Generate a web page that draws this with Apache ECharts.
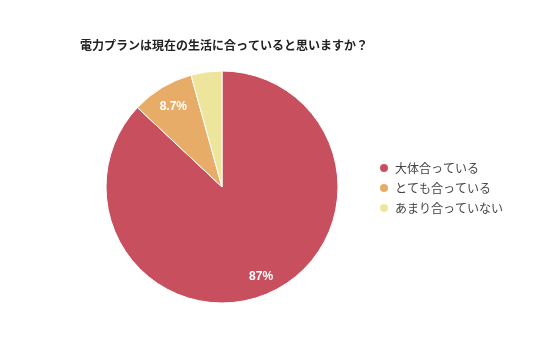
<!DOCTYPE html>
<html><head><meta charset="utf-8">
<script src="https://cdn.jsdelivr.net/npm/echarts@6/dist/echarts.min.js"></script>
<style>html,body{margin:0;padding:0;background:#fff;}#c{width:536px;height:357px;}</style>
</head><body><div id="c"></div>
<script>
const title = '電力プランは現在の生活に合っていると思いますか？';
const categories = ['大体合っている', 'とても合っている', 'あまり合っていない'];
const values = [87, 8.7, 4.3];
const labels = ['87%', '8.7%', ''];
const colors = ['#c8505e', '#e8ac69', '#ede59b'];

const chart = echarts.init(document.getElementById('c'));
const sliceData = categories.map((n, i) => ({ name: n, value: values[i], itemStyle: { color: colors[i] } }));
const labelData = categories.map((n, i) => ({ name: n, value: values[i], label: { show: labels[i] !== '', formatter: labels[i] } }));
chart.setOption({
  animation: false,
  title: { text: title, left: 75, top: 34, textStyle: { fontSize: 12, fontWeight: 'bold', color: '#222', fontFamily: 'Noto Sans CJK JP' } },
  legend: {
    orient: 'vertical', left: 373, top: 156, icon: 'circle', itemWidth: 12, itemHeight: 10, itemGap: 6,
    data: categories,
    textStyle: { fontSize: 12, color: '#444', fontFamily: 'Noto Sans CJK JP', lineHeight: 14 }
  },
  series: [
    {
      type: 'pie', center: [222, 187], radius: [0, 116], startAngle: 90, clockwise: true,
      itemStyle: { borderColor: '#fff', borderWidth: 1 },
      label: { show: false }, labelLine: { show: false }, silent: true,
      data: sliceData
    },
    {
      type: 'pie', center: [223, 189], radius: [0, 186], startAngle: 90, clockwise: true,
      itemStyle: { color: 'rgba(0,0,0,0)' }, silent: true, legendHoverLink: false,
      label: { position: 'inside', color: '#fff', fontSize: 12, fontWeight: 'bold', fontFamily: 'Arial' },
      labelLine: { show: false },
      data: labelData
    }
  ]
});
</script></body></html>
